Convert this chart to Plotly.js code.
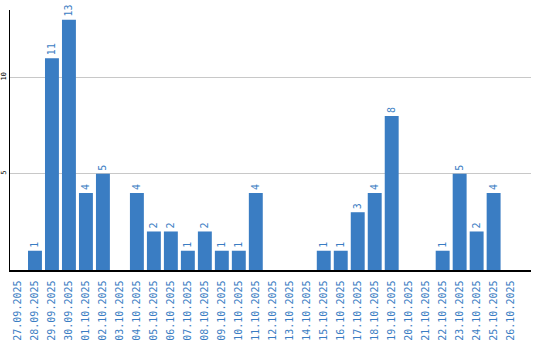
<!DOCTYPE html>
<html>
<head>
<meta charset="utf-8">
<script src="https://cdn.plot.ly/plotly-3.0.1.min.js"></script>
<style>html,body{margin:0;padding:0;background:#fff}#chart{width:540px;height:340px}</style>
</head>
<body>
<div id="chart"></div>
<script>
const dates = ["27.09.2025","28.09.2025","29.09.2025","30.09.2025","01.10.2025","02.10.2025","03.10.2025","04.10.2025","05.10.2025","06.10.2025","07.10.2025","08.10.2025","09.10.2025","10.10.2025","11.10.2025","12.10.2025","13.10.2025","14.10.2025","15.10.2025","16.10.2025","17.10.2025","18.10.2025","19.10.2025","20.10.2025","21.10.2025","22.10.2025","23.10.2025","24.10.2025","25.10.2025","26.10.2025"];
const counts = [0,1,11,13,4,5,0,4,2,2,1,2,1,1,4,0,0,0,1,1,3,4,8,0,0,1,5,2,4,0];
const yTicks = [5,10];

const blue = "#3a7dc3";
const labels = counts.map(v => v > 0 ? String(v) : "");

Plotly.newPlot("chart", [{
  type: "bar",
  x: dates,
  y: counts,
  marker: {color: blue},
  text: labels,
  textposition: "outside",
  textangle: -90,
  cliponaxis: false,
  textfont: {family: "DejaVu Sans Mono", size: 10, color: blue},
  hoverinfo: "none"
}], {
  width: 540, height: 340,
  margin: {l: 10, r: 9, t: 10, b: 70, pad: 0},
  paper_bgcolor: "#fff", plot_bgcolor: "#fff",
  bargap: 0.18,
  showlegend: false,
  xaxis: {
    type: "category",
    range: [-0.47, 30.2],
    tickangle: -90,
    tickfont: {family: "DejaVu Sans Mono", size: 10, color: blue},
    showline: true, linecolor: "#000", linewidth: 1.5,
    showgrid: false, zeroline: false,
    ticks: "", ticklabelstandoff: 5
  },
  yaxis: {
    range: [0, 13.5],
    tickvals: yTicks,
    ticktext: yTicks.map(String),
    tickangle: -90,
    tickfont: {family: "DejaVu Sans Mono", size: 7, color: "#000"},
    showline: true, linecolor: "#000", linewidth: 1.5,
    showgrid: true, gridcolor: "#c8c8c8", gridwidth: 1,
    zeroline: false, ticks: "", ticklabelstandoff: 0
  }
}, {displayModeBar: false, staticPlot: true});
</script>
</body>
</html>
